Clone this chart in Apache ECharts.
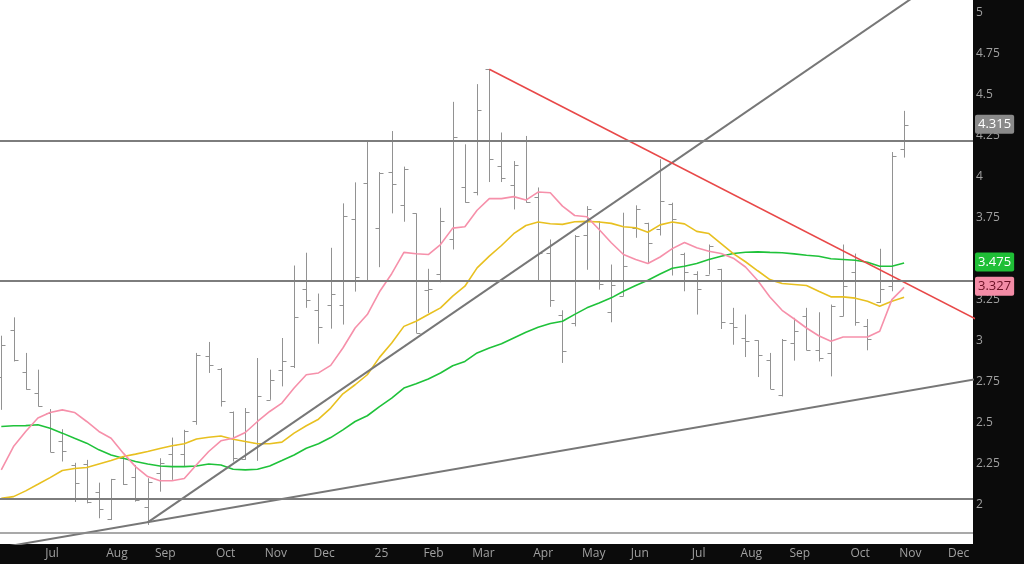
<!DOCTYPE html>
<html>
<head>
<meta charset="utf-8">
<script src="https://cdn.jsdelivr.net/npm/echarts@6/dist/echarts.min.js"></script>
<style>
html,body{margin:0;padding:0;background:#0b0b0b;}
#c{width:1024px;height:564px;}
</style>
</head>
<body>
<div id="c"></div>
<script>
// Weekly bars (index 0 = week of 3 Jun 2024, index 74 = week of 3 Nov 2025)
const open  = [2.782,3.069,2.811,2.682,2.560,2.387,2.244,2.250,2.081,1.913,2.285,2.173,1.990,2.195,2.312,2.312,2.509,2.906,2.831,2.566,2.281,2.379,2.641,2.825,2.845,3.319,3.187,3.222,3.217,3.741,3.965,3.690,4.032,3.827,3.778,3.313,3.409,3.623,3.941,3.908,4.657,4.067,3.949,4.225,3.880,3.539,3.161,3.110,3.649,3.731,3.175,3.272,3.690,3.721,3.680,3.833,3.533,3.411,3.405,3.436,3.110,3.018,3.004,2.881,2.672,2.988,3.150,2.943,2.927,3.155,3.419,3.093,3.236,3.334,4.173];
const high  = [3.032,3.144,2.927,2.825,2.585,2.462,2.257,2.275,2.136,2.159,2.295,2.244,2.163,2.285,2.411,2.458,2.927,2.994,2.835,2.570,2.591,2.896,2.825,3.018,3.460,3.538,3.289,3.568,3.839,3.967,4.219,4.030,4.280,4.063,3.778,3.440,3.812,4.458,4.199,4.566,4.657,4.271,4.097,4.250,3.936,3.619,3.187,3.646,3.822,3.731,3.466,3.782,3.827,3.721,4.108,3.843,3.538,3.425,3.588,3.440,3.202,3.161,3.004,2.927,3.012,3.141,3.202,3.175,3.222,3.588,3.533,3.134,3.562,4.152,4.403];
const low   = [2.580,2.875,2.703,2.600,2.322,2.265,2.018,2.010,1.919,1.908,2.122,2.020,1.878,2.081,2.153,2.234,2.489,2.805,2.600,2.265,2.275,2.269,2.641,2.723,2.835,3.202,2.983,3.075,3.100,3.301,3.364,3.450,3.778,3.727,3.049,3.171,3.358,3.558,3.843,3.888,3.969,3.969,3.802,3.843,3.370,3.208,2.866,3.089,3.434,3.313,3.114,3.272,3.629,3.476,3.643,3.399,3.303,3.161,3.405,3.073,2.977,2.902,2.780,2.707,2.662,2.880,2.943,2.875,2.784,3.150,3.093,2.943,3.232,3.303,4.118];
const close = [2.977,2.881,2.709,2.605,2.326,2.332,2.134,2.018,1.976,2.157,2.128,2.031,2.142,2.257,2.367,2.448,2.912,2.855,2.631,2.285,2.564,2.662,2.764,2.875,3.144,3.252,3.086,3.289,3.761,3.391,3.364,4.026,3.955,4.046,3.049,3.318,3.731,4.246,3.847,4.407,4.112,3.991,4.071,3.847,3.538,3.252,2.941,3.641,3.802,3.350,3.344,3.460,3.802,3.599,3.853,3.745,3.419,3.318,3.578,3.114,3.086,3.002,2.916,2.707,3.008,3.059,2.947,2.896,3.216,3.334,3.114,3.012,3.318,4.128,4.315];

// Moving averages
const maPink   = [2.214,2.356,2.448,2.530,2.564,2.580,2.564,2.509,2.448,2.407,2.316,2.234,2.173,2.148,2.148,2.161,2.245,2.326,2.391,2.407,2.442,2.509,2.570,2.621,2.713,2.794,2.805,2.851,2.957,3.079,3.161,3.300,3.410,3.540,3.532,3.527,3.588,3.688,3.696,3.797,3.868,3.868,3.880,3.859,3.908,3.904,3.822,3.765,3.757,3.680,3.599,3.527,3.497,3.472,3.512,3.563,3.600,3.568,3.547,3.533,3.505,3.451,3.369,3.268,3.187,3.134,3.079,3.032,2.998,3.024,3.024,3.024,3.059,3.252,3.327];
const maYellow = [2.041,2.051,2.086,2.126,2.167,2.210,2.222,2.228,2.250,2.271,2.295,2.310,2.326,2.344,2.361,2.373,2.402,2.413,2.421,2.401,2.387,2.373,2.373,2.383,2.438,2.483,2.523,2.591,2.678,2.733,2.794,2.900,2.988,3.089,3.120,3.161,3.202,3.273,3.334,3.446,3.517,3.582,3.654,3.704,3.725,3.715,3.711,3.727,3.729,3.725,3.717,3.696,3.690,3.663,3.708,3.725,3.714,3.668,3.655,3.594,3.533,3.483,3.428,3.374,3.350,3.344,3.338,3.303,3.269,3.269,3.261,3.242,3.211,3.242,3.266];
const maGreen  = [2.478,2.483,2.484,2.489,2.468,2.438,2.407,2.377,2.336,2.305,2.285,2.265,2.250,2.238,2.234,2.234,2.238,2.250,2.244,2.218,2.214,2.218,2.238,2.271,2.305,2.346,2.373,2.411,2.458,2.509,2.544,2.600,2.652,2.713,2.739,2.768,2.805,2.849,2.875,2.927,2.957,2.983,3.018,3.053,3.083,3.106,3.120,3.162,3.202,3.232,3.263,3.303,3.338,3.370,3.408,3.443,3.456,3.472,3.497,3.517,3.533,3.541,3.543,3.540,3.538,3.531,3.523,3.517,3.501,3.497,3.492,3.480,3.456,3.456,3.475];

// Trend lines: [weekIndex, price] endpoints
const steepTrend = [[12, 1.894], [76, 5.159]];
const longTrend  = [[0, 1.741], [80, 2.768]];
const redTrend   = [[40, 4.657], [80, 3.129]];
const levels     = [4.218, 3.374, 2.037];
const baseLevel  = 1.833;

// Axis ticks
const monthWeeks  = [4, 9, 13, 18, 22, 26, 31, 35, 39, 44, 48, 52, 57, 61, 65, 70, 74, 78];
const monthLabels = ['Jul','Aug','Sep','Oct','Nov','Dec','25','Feb','Mar','Apr','May','Jun','Jul','Aug','Sep','Oct','Nov','Dec'];
const yTicks = [2, 2.25, 2.5, 2.75, 3, 3.25, 3.5, 3.75, 4, 4.25, 4.5, 4.75, 5];

const LABEL_SHIFT = 0.4;
const ohlc = open.map((o, i) => [i, o, high[i], low[i], close[i]]);
const toXY = arr => arr.map((v, i) => [i, v]);

const chart = echarts.init(document.getElementById('c'), null, {renderer: 'canvas'});
const axisFont = "'Open Sans', 'DejaVu Sans', sans-serif";

const option = {
  backgroundColor: '#0b0b0b',
  animation: false,
  grid: {left: 0, top: 0, right: 51, bottom: 20, show: true, backgroundColor: '#ffffff', borderWidth: 0},
  xAxis: {
    type: 'value', min: -0.1066, max: 79.648,
    axisLine: {show: false}, axisTick: {show: false}, splitLine: {show: false},
    axisLabel: {
      customValues: monthWeeks.map(w => w - LABEL_SHIFT),
      formatter: v => {
        const i = monthWeeks.findIndex(w => Math.abs(w - LABEL_SHIFT - v) < 0.01);
        return i >= 0 ? monthLabels[i] : '';
      },
      color: '#a0a0a0', fontSize: 12, fontFamily: axisFont, align: 'left', margin: 4
    }
  },
  yAxis: {
    type: 'value', position: 'right', min: 1.762, max: 5.079,
    axisLine: {show: false}, axisTick: {show: false}, splitLine: {show: false},
    axisLabel: {
      customValues: yTicks, formatter: v => String(v),
      color: '#a0a0a0', fontSize: 12, fontFamily: axisFont, margin: 3
    }
  },
  series: [
    {
      type: 'line', data: toXY(maGreen), symbol: 'none', z: 3,
      lineStyle: {color: '#1fc23a', width: 1.6},
      markLine: {
        silent: true, symbol: 'none', animation: false,
        label: {show: false},
        data: levels.map(v => ({yAxis: v, lineStyle: {color: '#7d7d7d', width: 2, type: 'solid'}}))
          .concat([{yAxis: baseLevel, lineStyle: {color: '#8c8c8c', width: 1.5, type: 'solid'}}])
      }
    },
    {type: 'line', data: toXY(maYellow), symbol: 'none', z: 3, lineStyle: {color: '#e8c020', width: 1.6}},
    {type: 'line', data: toXY(maPink), symbol: 'none', z: 3, lineStyle: {color: '#f690aa', width: 1.6}},
    {type: 'line', data: steepTrend, symbol: 'none', z: 4, clip: true, lineStyle: {color: '#777777', width: 2}},
    {type: 'line', data: longTrend, symbol: 'none', z: 4, clip: true, lineStyle: {color: '#777777', width: 2}},
    {type: 'line', data: redTrend, symbol: 'none', z: 4, clip: true, lineStyle: {color: '#e84848', width: 1.6}},
    {
      type: 'custom', data: ohlc, z: 2, clip: true,
      encode: {x: 0, y: [1, 2, 3, 4]},
      renderItem: (params, api) => {
        const x = api.value(0);
        const o = api.coord([x, api.value(1)]);
        const h = api.coord([x, api.value(2)]);
        const l = api.coord([x, api.value(3)]);
        const c = api.coord([x, api.value(4)]);
        const px = Math.round(h[0]) + 0.5;
        const st = {stroke: '#929292', lineWidth: 1};
        return {type: 'group', children: [
          {type: 'line', shape: {x1: px, y1: h[1], x2: px, y2: l[1]}, style: st},
          {type: 'line', shape: {x1: px - 4, y1: Math.round(o[1]) + 0.5, x2: px, y2: Math.round(o[1]) + 0.5}, style: st},
          {type: 'line', shape: {x1: px, y1: Math.round(c[1]) + 0.5, x2: px + 4, y2: Math.round(c[1]) + 0.5}, style: st}
        ]};
      }
    }
  ]
};
chart.setOption(option);

const last = close.length - 1;
const tags = [
  {v: close[last], bg: '#8a8a8a', fg: '#ffffff'},
  {v: maGreen[last], bg: '#1fbf36', fg: '#ffffff'},
  {v: maPink[last], bg: '#f38ca6', fg: '#6a1024'}
];
chart.setOption({
  graphic: tags.map(t => ({
    type: 'text', z: 100,
    x: 975, y: chart.convertToPixel({yAxisIndex: 0}, t.v) - 1,
    style: {
      text: t.v.toFixed(3), fill: t.fg, font: "13px 'Open Sans', sans-serif",
      verticalAlign: 'middle', align: 'left',
      backgroundColor: t.bg, padding: [4, 3, 2, 3], borderRadius: 2
    }
  }))
});
</script>
</body>
</html>
